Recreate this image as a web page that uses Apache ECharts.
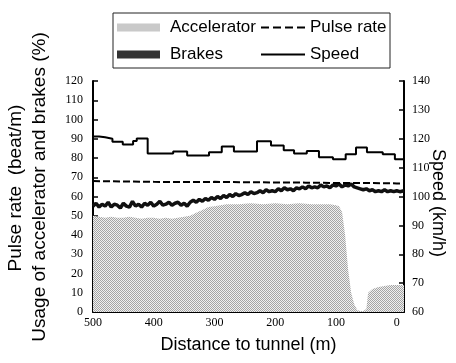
<!DOCTYPE html>
<html><head><meta charset="utf-8">
<script src="https://cdn.jsdelivr.net/npm/echarts@6/dist/echarts.min.js"></script>
<style>html,body{margin:0;padding:0;background:#fff}#c{width:456px;height:363px}</style>
</head><body><div id="c"></div>
<script>
// ---- data (distance to tunnel in m) ----
const xTicks = [0, 100, 200, 300, 400, 500];
const accelDist = [500,490,480,470,460,450,440,430,420,410,400,390,380,370,360,350,340,330,320,310,300,290,280,260,240,220,200,180,160,140,120,110,100,95,90,85,80,75,70,65,60,55,50,47,40,30,20,10,0,-12];
const accelVals = [50,49.5,49,49.5,49,49,49.5,49,48.5,49,49,48.5,49,48.5,49,49.5,50,51.5,53,54.5,55,55.5,56,56,56.5,56,56.5,56,56.5,56,56,56,55.5,55,52,40,22,10,4,1,0.5,0.5,1.5,10,12,13,13.5,14,14,14];
const brakeDist = [500,495,490,485,480,475,470,465,460,455,450,445,440,435,430,425,420,415,410,405,400,395,390,385,380,375,370,365,360,355,350,345,340,335,330,325,320,315,310,305,300,295,290,285,280,275,270,265,260,255,250,245,240,235,230,225,220,215,210,205,200,195,190,185,180,175,170,165,160,155,150,145,140,135,130,125,120,115,110,105,100,95,90,85,80,75,70,65,60,55,50,45,40,35,30,25,20,15,10,5,0,-5,-12];
const brakeVals = [55,56.5,54.5,56,55,57,54.5,56,55.5,54,56.5,55,54.5,57.5,55,56,54.5,56.5,55.5,57,55,56,57.5,55.5,56,57,55.5,56.5,57,55.5,56.5,55,57,58,57,58.5,57.5,59,58,59.5,58.5,60,59,60.5,59.5,61,60,61.5,60.5,61,62,61,62.5,61.5,62,63,62,63.5,62.5,63,62.5,64,63,64.5,63.5,64,63,64.5,64,65,64,65.5,64.5,65,64.5,66,65,65.5,64.5,66,65.5,66.5,65,66,65.5,66.5,65,64.5,64,63.5,64,63,63.5,62.5,63,62.5,63.5,62.5,63,62.5,63,62.5,63];
const pulseDist = [500,450,400,350,300,250,200,150,100,50,0,-12];
const pulseVals = [68,67.8,67.6,67.5,67.6,67.4,67.3,67.2,67,67,66.8,66.8];
const speedDist = [500,490,480,468,451,434,428,410,368,345,309,288,268,230,207,186,169,148,128,105,84,67,49,23,3,-12];
const speedVals = [120.8,120.5,120,119,118,119.2,120.1,114.9,115.6,114.2,115.3,117.3,115.6,119.1,117.7,116,114.9,115.8,113.6,112.9,114.6,117,115.3,114.6,112.9,112.9];

const zip = (a, b) => a.map((d, i) => [d, b[i]]);

// halftone-like grey fill
function makePattern(light, dark) {
  const cv = document.createElement('canvas');
  cv.width = 2; cv.height = 2;
  const g = cv.getContext('2d');
  g.fillStyle = light; g.fillRect(0, 0, 2, 2);
  g.fillStyle = dark; g.fillRect(0, 0, 1, 1); g.fillRect(1, 1, 1, 1);
  return cv;
}
const accelFill = { image: makePattern('#efefef', '#a4a4a4'), repeat: 'repeat' };
const brakeFill = { image: makePattern('#555555', '#111111'), repeat: 'repeat' };
const serif = 'Liberation Serif';
const sans = 'Liberation Sans';
const dashIcon = 'path://M0,0h8v2h-8z M12,0h8v2h-8z M24,0h8v2h-8z M36,0h8v2h-8z';
const solidIcon = 'path://M0,0h44v2h-44z';

const chart = echarts.init(document.getElementById('c'), null, { renderer: 'canvas' });
chart.setOption({
  animation: false,
  backgroundColor: '#fff',
  grid: { left: 93, right: 52, top: 81, bottom: 51 },
  legend: [
    { data: [{ name: 'Accelerator', icon: 'rect', itemStyle: { color: accelFill } },
             { name: 'Brakes', icon: 'rect', itemStyle: { color: brakeFill } }],
      orient: 'vertical', left: 117, top: 19, padding: 0, itemGap: 10,
      itemWidth: 43, itemHeight: 8, selectedMode: false,
      textStyle: { fontFamily: sans, fontSize: 17, color: '#000', padding: [0, 0, 0, 5] } },
    { data: [{ name: 'Pulse rate', icon: dashIcon, itemStyle: { color: '#000' } },
             { name: 'Speed', icon: solidIcon, itemStyle: { color: '#000' } }],
      orient: 'vertical', left: 261, top: 19, padding: 0, itemGap: 10,
      itemWidth: 44, itemHeight: 2, selectedMode: false,
      textStyle: { fontFamily: sans, fontSize: 17, color: '#000', padding: [0, 0, 0, 0] } }
  ],
  xAxis: {
    type: 'value', min: -12, max: 500, inverse: true,
    name: 'Distance to tunnel (m)', nameLocation: 'middle', nameGap: 24,
    nameTextStyle: { fontFamily: sans, fontSize: 18, color: '#000' },
    axisLine: { show: true, onZero: false, lineStyle: { color: '#000', width: 2 } },
    axisTick: { show: true, inside: true, length: 5, customValues: xTicks, lineStyle: { color: '#000', width: 1.5 } },
    axisLabel: { customValues: xTicks, margin: 5, fontFamily: serif, fontSize: 12, color: '#000' },
    splitLine: { show: false }
  },
  yAxis: [
    { type: 'value', min: 0, max: 120, interval: 10, position: 'left',
      axisLine: { show: true, onZero: false, lineStyle: { color: '#000', width: 2 } },
      axisTick: { show: true, inside: true, length: 5, lineStyle: { color: '#000', width: 1.5 } },
      axisLabel: { margin: 10, fontFamily: serif, fontSize: 12, color: '#000' },
      splitLine: { show: false } },
    { type: 'value', min: 60, max: 140, interval: 10, position: 'right',
      axisLine: { show: true, onZero: false, lineStyle: { color: '#000', width: 2 } },
      axisTick: { show: true, inside: true, length: 5, lineStyle: { color: '#000', width: 1.5 } },
      axisLabel: { margin: 8, fontFamily: serif, fontSize: 12, color: '#000' },
      splitLine: { show: false } }
  ],
  series: [
    { name: 'Accelerator', type: 'line', yAxisIndex: 0, data: zip(accelDist, accelVals),
      symbol: 'none', lineStyle: { width: 0 }, itemStyle: { color: '#aaa' },
      areaStyle: { color: accelFill, opacity: 1 } },
    { name: 'Brakes', type: 'line', yAxisIndex: 0, data: zip(brakeDist, brakeVals),
      symbol: 'none', lineStyle: { width: 3.5, color: '#111' }, itemStyle: { color: '#2b2b2b' } },
    { name: 'Pulse rate', type: 'line', yAxisIndex: 0, data: zip(pulseDist, pulseVals),
      symbol: 'none', lineStyle: { width: 2, color: '#000', type: [7, 3] }, itemStyle: { color: '#000' } },
    { name: 'Speed', type: 'line', yAxisIndex: 1, step: 'end', data: zip(speedDist, speedVals),
      symbol: 'none', lineStyle: { width: 2, color: '#000' }, itemStyle: { color: '#000' } }
  ],
  graphic: [
    { type: 'rect', shape: { x: 113, y: 13, width: 277, height: 55 },
      style: { fill: 'none', stroke: '#222', lineWidth: 1 }, silent: true },
    { type: 'text', x: 16, y: 188, rotation: Math.PI / 2,
      style: { text: 'Pulse rate  (beat/m)', font: '19px "Liberation Sans"', fill: '#000', textAlign: 'center', textVerticalAlign: 'middle' } },
    { type: 'text', x: 40, y: 187, rotation: Math.PI / 2,
      style: { text: 'Usage of accelerator and brakes (%)', font: '19px "Liberation Sans"', fill: '#000', textAlign: 'center', textVerticalAlign: 'middle' } },
    { type: 'text', x: 438, y: 203, rotation: -Math.PI / 2,
      style: { text: 'Speed (km/h)', font: '18px "Liberation Sans"', fill: '#000', textAlign: 'center', textVerticalAlign: 'middle' } }
  ]
});
</script></body></html>
